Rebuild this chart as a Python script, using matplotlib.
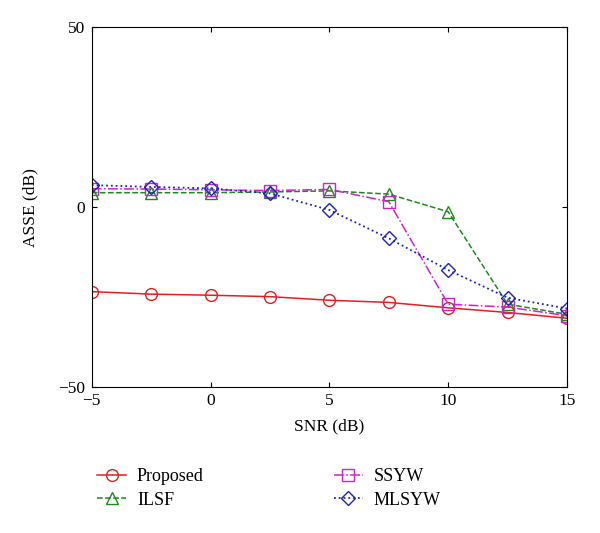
import matplotlib.pyplot as plt

plt.rcParams['font.family'] = ['Liberation Serif', 'DejaVu Serif']

# donnees
snr = [-5, -2.5, 0, 2.5, 5, 7.5, 10, 12.5, 15]
proposed = [-23.5, -24.2, -24.5, -24.9, -25.9, -26.5, -28.0, -29.3, -30.9]
ilsf = [4.0, 4.0, 4.0, 4.2, 4.5, 3.6, -1.3, -27.0, -29.8]
ssyw = [5.1, 5.0, 4.8, 4.6, 4.9, 1.5, -27.0, -27.8, -30.2]
mlsyw = [6.1, 5.6, 5.2, 3.8, -0.8, -8.7, -17.5, -25.2, -28.2]

fig = plt.figure(figsize=(6, 5.33), dpi=100)
ax = fig.add_axes([0.153, 0.274, 0.792, 0.675])

ms = 8.5
ax.plot(snr, proposed, '-', color='#e01f1f', marker='o', mfc='none', ms=ms, lw=1.1, label='Proposed')
ax.plot(snr, ilsf, '--', color='#1a8a1a', marker='^', mfc='none', ms=ms, lw=1.1, label='ILSF')
ax.plot(snr, ssyw, '-.', color='#d21fd2', marker='s', mfc='none', ms=ms, lw=1.1, label='SSYW')
ax.plot(snr, mlsyw, ':', color='#1f1fc8', marker='D', mfc='none', ms=ms - 1, lw=1.3, label='MLSYW')

ax.set_xlim(-5, 15)
ax.set_ylim(-50, 50)
ax.set_xticks([-5, 0, 5, 10, 15])
ax.set_yticks([-50, 0, 50])
ax.tick_params(direction='in', top=True, right=True, labelsize=12.5)
ax.tick_params(axis='x', pad=4)
ax.tick_params(axis='y', pad=5)
ax.set_xlabel('SNR (dB)', fontsize=12.5, labelpad=7)
ax.set_ylabel('ASSE (dB)', fontsize=12.5, labelpad=14)

fig.legend(loc='lower left', bbox_to_anchor=(0.135, 0.015), ncol=2, frameon=False,
           fontsize=13, columnspacing=7.2, handlelength=1.6, handletextpad=0.6,
           labelspacing=0.35)

plt.savefig('out.png', dpi=100)
